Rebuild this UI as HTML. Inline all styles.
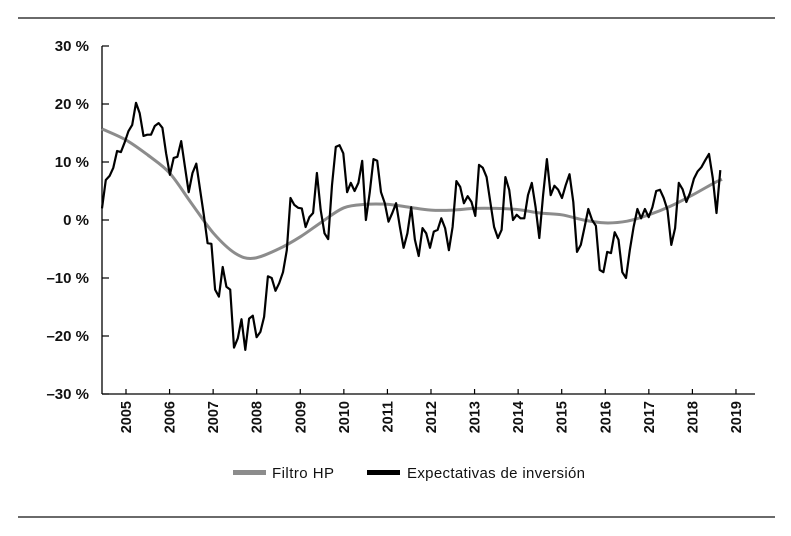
<!DOCTYPE html>
<html><head><meta charset="utf-8"><style>
body{margin:0;background:#fff;}
svg{display:block;font-family:"Liberation Sans",sans-serif;}
</style></head><body>
<svg id="chart" width="791" height="536" viewBox="0 0 791 536" xmlns="http://www.w3.org/2000/svg">
<line x1="18" y1="18" x2="775" y2="18" stroke="#111" stroke-width="1.3"/>
<line x1="18" y1="517" x2="775" y2="517" stroke="#111" stroke-width="1.3"/>
<g id="axes"></g>
<g id="series"></g>
<g>
<rect x="233" y="470" width="33" height="5" fill="#8c8c8c"/>
<text x="272" y="478" font-size="15" fill="#111" textLength="62">Filtro HP</text>
<rect x="367" y="470" width="33" height="5" fill="#000"/>
<text x="407" y="478" font-size="15" fill="#111" textLength="178">Expectativas de inversión</text>
</g>
</svg>
<script>
const yTicks = [30, 20, 10, 0, -10, -20, -30];
const yTickLabels = ["30 %", "20 %", "10 %", "0 %", "\u201310 %", "\u201320 %", "\u201330 %"];
const years = [2005,2006,2007,2008,2009,2010,2011,2012,2013,2014,2015,2016,2017,2018,2019];
const expStart = 2004.45;
const expEnd = 2018.64;
const expectativas = [2,6.9,7.6,9,11.9,11.7,13.4,15.3,16.4,20.2,18.4,14.5,14.7,14.7,16.2,16.7,15.9,11.5,7.8,10.7,10.9,13.6,9.1,4.8,8.1,9.7,5.2,0.9,-4,-4.1,-12,-13.2,-8.1,-11.5,-12,-22,-20.4,-17.1,-22.4,-17,-16.5,-20.2,-19.3,-16.7,-9.7,-10,-12.2,-10.9,-9,-5.2,3.8,2.6,2.1,2,-1.2,0.5,1.2,8.1,1.7,-2.3,-3.3,6,12.6,
12.9,11.5,4.8,6.4,5,6.4,10.2,0,4.7,10.5,10.2,4.8,2.9,-0.3,1.2,2.9,-1.2,-4.8,-2.3,2.2,-3.4,-6.2,-1.4,-2.3,-4.8,-2,-1.7,0.3,-1.4,-5.2,-1.2,6.7,5.7,2.9,4.1,3.1,0.7,9.5,9,7.4,3.1,-1.2,-3.1,-1.7,7.4,5.2,0,0.9,0.3,0.3,4.3,
6.4,2.2,-3.1,4.3,10.5,4.3,5.9,5.2,3.8,6,7.9,3.1,-5.5,-4.3,-1.2,1.9,0,-1,-8.6,-9,-5.5,-5.7,-2.1,-3.4,-9,-10,-5.2,-1.2,1.9,0.3,1.9,0.5,2.2,5,5.2,3.8,1.7,-4.3,-1.4,6.4,5.3,3.1,4.7,7.1,8.4,9.1,10.3,11.4,7.2,1.2,8.6];
const hpTimes = [2004.45,2005,2005.5,2006,2006.5,2007,2007.5,2007.92,2008.5,2009,2009.5,2010,2010.5,2011,2011.5,2012,2012.5,2013,2013.5,2014,2014.5,2015,2015.5,2016,2016.5,2017,2017.5,2018,2018.5,2018.68];
const hpValues = [15.7,13.8,11.2,8.1,2.9,-2.2,-5.7,-6.6,-5,-2.9,-0.3,2.1,2.7,2.7,2.2,1.7,1.7,2,2,1.8,1.2,0.9,0,-0.5,-0.2,0.9,2.4,4.3,6.4,7];

const NS = "http://www.w3.org/2000/svg";
const X0 = 126, PX_PER_YEAR = 43.57;
const xScale = t => X0 + (t - 2005) * PX_PER_YEAR;
const yScale = v => 220 - v * 5.8;
function mk(tag, attrs, parent){const e=document.createElementNS(NS,tag);for(const k in attrs)e.setAttribute(k,attrs[k]);parent.appendChild(e);return e;}
const axes = document.getElementById('axes');
const series = document.getElementById('series');

const yAxis = mk('line',{x1:102,y1:yScale(30),x2:102,y2:yScale(-30),stroke:'#000','stroke-width':1.3},axes);


const xAxis = mk('line',{x1:102,y1:yScale(-30),x2:755,y2:yScale(-30),stroke:'#000','stroke-width':1.3},axes);



yTicks.forEach((v,i)=>{
  const tk = mk('line',{x1:102,y1:yScale(v),x2:109,y2:yScale(v),stroke:'#000','stroke-width':1.2},axes);
  
  
  const lb = mk('text',{x:89,y:yScale(v)+5,'text-anchor':'end','font-size':15,'font-weight':'bold',fill:'#111'},axes);
  lb.textContent = yTickLabels[i];
  
  
});
years.forEach(y=>{
  const x = xScale(y);
  const tk = mk('line',{x1:x,y1:389,x2:x,y2:394,stroke:'#000','stroke-width':1.2},axes);
  
  
  const lb = mk('text',{x:0,y:0,'text-anchor':'end','font-size':14.5,'font-weight':'bold',fill:'#111',transform:`translate(${x+5},401) rotate(-90)`},axes);
  lb.textContent = y;
  
  
});

// smooth HP curve (Catmull-Rom through data points)
const P = hpTimes.map((t,i)=>[xScale(t), yScale(hpValues[i])]);
let d = `M${P[0][0].toFixed(1)},${P[0][1].toFixed(1)}`;
for(let i=0;i<P.length-1;i++){
  const p0=P[Math.max(0,i-1)], p1=P[i], p2=P[i+1], p3=P[Math.min(P.length-1,i+2)];
  const c1=[p1[0]+(p2[0]-p0[0])/6, p1[1]+(p2[1]-p0[1])/6];
  const c2=[p2[0]-(p3[0]-p1[0])/6, p2[1]-(p3[1]-p1[1])/6];
  d += ` C${c1[0].toFixed(1)},${c1[1].toFixed(1)} ${c2[0].toFixed(1)},${c2[1].toFixed(1)} ${p2[0].toFixed(1)},${p2[1].toFixed(1)}`;
}
const hp = mk('path',{d:d,fill:'none',stroke:'#8c8c8c','stroke-width':3,'stroke-linejoin':'round'},series);



const n = expectativas.length;
const step = (expEnd - expStart)/(n-1);
const expPts = expectativas.map((v,i)=>xScale(expStart+i*step).toFixed(1)+','+yScale(v).toFixed(1)).join(' ');
const ex = mk('polyline',{points:expPts,fill:'none',stroke:'#000','stroke-width':2.2,'stroke-linejoin':'round'},series);


</script>
</body></html>
